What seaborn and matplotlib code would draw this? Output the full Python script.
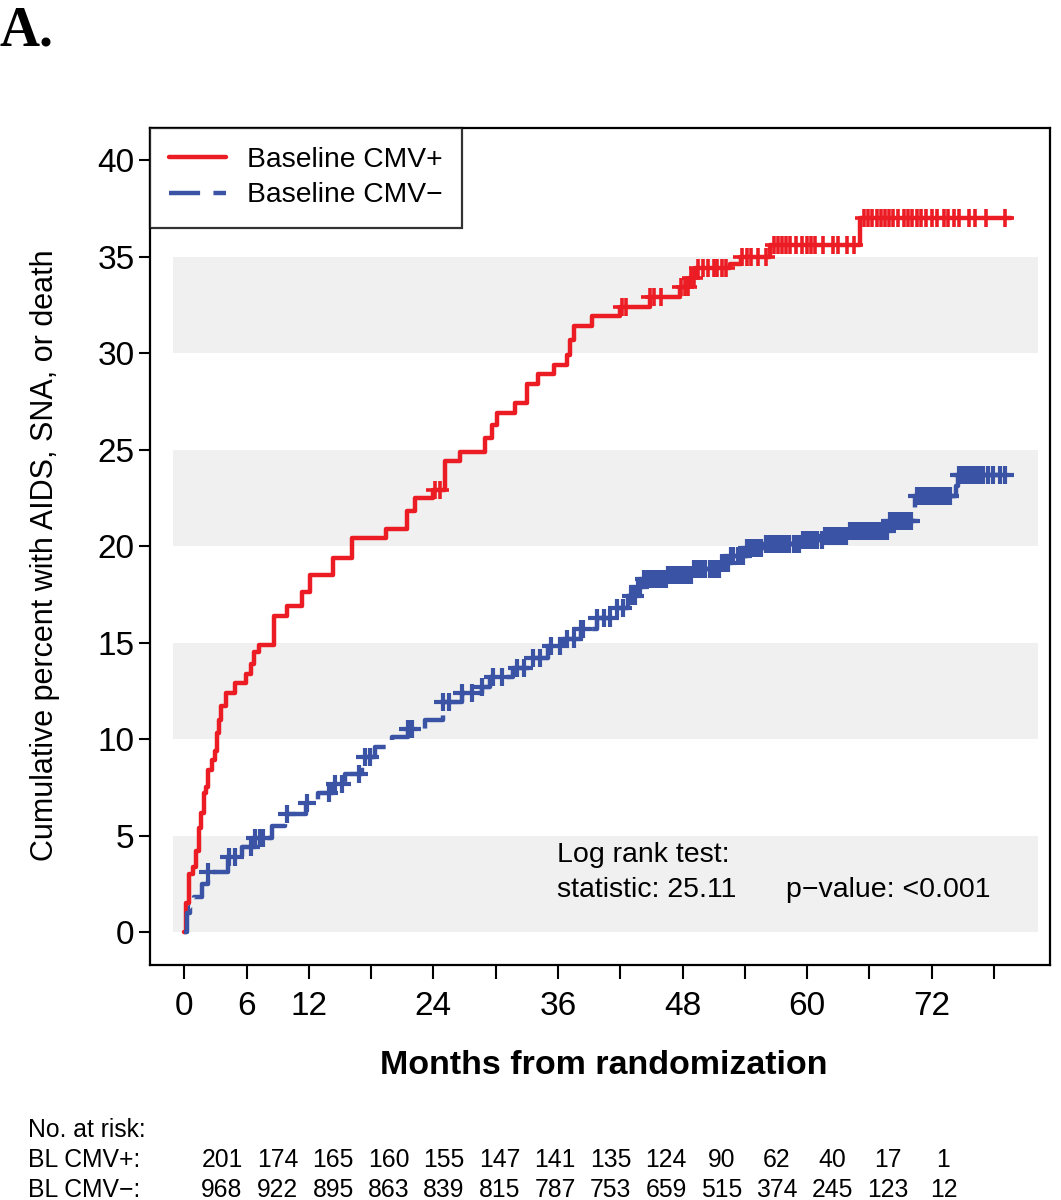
import numpy as np
import pandas as pd
import matplotlib
matplotlib.use('Agg')
import matplotlib.pyplot as plt
import seaborn as sns

# step curves: event times (months) and cumulative percent
pos_time = [0, 0.2, 0.5, 0.8, 1.1, 1.4, 1.6, 1.9, 2.1, 2.3, 2.7, 3.0, 3.2, 3.3, 3.5, 4.0,
            4.9, 5.9, 6.4, 6.7, 7.2, 8.6, 9.9, 11.3, 12.1, 14.3, 16.2, 19.4, 21.5, 22.2,
            24.0, 25.1, 26.6, 29.0, 29.6, 30.1, 31.9, 33.0, 34.1, 35.6, 36.9, 37.2, 37.5,
            39.3, 42.0, 44.9, 47.8, 48.6, 49.2, 52.6, 53.6, 56.4, 65.1, 79.6]
pos_pct = [0, 1.5, 3.0, 3.4, 4.2, 5.4, 6.2, 7.2, 7.5, 8.4, 8.9, 9.4, 10.3, 11.0, 11.7, 12.4,
           12.9, 13.4, 13.9, 14.5, 14.9, 16.4, 16.9, 17.6, 18.5, 19.4, 20.4, 20.9, 21.8, 22.5,
           22.9, 24.4, 24.9, 25.6, 26.3, 26.9, 27.4, 28.4, 28.9, 29.4, 29.9, 30.7, 31.4,
           31.9, 32.4, 32.9, 33.4, 33.9, 34.4, 34.6, 35.0, 35.6, 37.0, 37.0]
pos_censor = [24.2, 24.6, 42.2, 42.6, 44.9, 45.3, 45.9, 47.9, 48.2, 48.5, 48.8, 49.1,
              49.5, 50.0, 50.5, 51.0, 51.3, 51.8, 52.2, 53.7, 54.2, 54.6, 55.3, 56.0,
              56.8, 57.2, 57.6, 58.0, 58.4, 58.9, 59.5, 60.0, 60.4, 60.8, 61.5, 62.5, 63.0,
              63.8, 64.5, 65.5, 65.9, 66.3, 66.7, 67.1, 67.5, 67.9, 68.3, 68.8, 69.3, 69.7,
              70.1, 70.6, 71.0, 71.5, 72.0, 72.5, 73.2, 73.6, 74.2, 74.6, 75.6, 76.2, 77.2, 79.1]

neg_time = [0, 0.3, 0.6, 0.9, 1.7, 2.3, 4.2, 5.6, 6.8, 8.5, 9.7, 11.7, 12.9, 14.3, 15.5,
            17.1, 18.4, 20.0, 21.6, 23.2, 24.9, 26.8, 28.7, 29.5, 31.7, 33.3, 35.0, 36.5,
            38.2, 39.8, 41.3, 42.7, 43.6, 44.2, 46.5, 49.0, 51.6, 52.6, 54.2, 55.8, 59.6,
            61.5, 63.9, 67.8, 68.0, 70.2, 70.4, 74.3, 74.5, 79.8]
neg_pct = [0, 1.0, 1.3, 1.8, 2.5, 3.1, 3.9, 4.4, 4.9, 5.5, 6.1, 6.7, 7.2, 7.7, 8.2,
           9.1, 9.6, 10.1, 10.5, 11.0, 11.9, 12.4, 12.7, 13.2, 13.7, 14.2, 14.8, 15.2,
           15.7, 16.3, 16.8, 17.4, 17.9, 18.3, 18.5, 18.8, 19.1, 19.5, 19.9, 20.1, 20.3,
           20.5, 20.8, 21.1, 21.3, 22.0, 22.6, 23.1, 23.7, 23.7]
neg_censor = [2.3, 4.3, 4.9, 6.4, 6.8, 7.3, 7.6, 9.9, 11.8, 13.9, 14.5, 15.2, 16.8, 17.4,
              17.9, 21.6, 21.9, 24.9, 25.5, 26.8, 27.7, 28.7, 29.7, 30.6, 32.1, 32.7, 33.6,
              34.3, 35.3, 36.2, 36.9, 37.5, 38.2, 38.4, 39.8, 40.4, 41.0, 41.7, 42.3, 43.0,
              43.4, 43.7, 43.9, 44.3, 44.6, 44.8, 45.2, 45.5, 45.7, 46.1, 46.4, 46.6, 47.0,
              47.3, 47.5, 47.9, 48.2, 48.4, 48.8, 49.1, 49.3, 49.7, 50.0, 50.2, 50.6, 50.9,
              51.1, 51.5, 51.8, 52.0, 52.4, 52.7, 52.9, 53.3, 53.6, 53.8, 54.2, 54.5, 54.7,
              55.1, 55.4, 55.6, 56.0, 56.3, 56.5, 56.9, 57.2, 57.4, 57.8, 58.1, 58.3, 58.7,
              59.0, 59.2, 59.6, 59.9, 60.1, 60.5, 60.8, 61.0, 61.4, 61.7, 61.9, 62.3, 62.6,
              62.8, 63.2, 63.5, 63.7, 64.1, 64.4, 64.6, 65.0, 65.3, 65.5, 65.9, 66.2, 66.4,
              66.8, 67.1, 67.3, 67.7, 68.0, 68.2, 68.6, 68.9, 69.1, 69.5, 69.8, 70.0, 70.6,
              70.9, 71.1, 71.5, 71.8, 72.0, 72.4, 72.7, 72.9, 73.3, 73.6, 73.8, 74.6, 74.9,
              75.1, 75.5, 75.8, 76.0, 76.4, 76.7, 76.9, 77.4, 77.9, 78.6, 79.1]

risk_pos = [201, 174, 165, 160, 155, 147, 141, 135, 124, 90, 62, 40, 17, 1]
risk_neg = [968, 922, 895, 863, 839, 815, 787, 753, 659, 515, 374, 245, 123, 12]

tick_months = [0, 6, 12, 18, 24, 30, 36, 42, 48, 54, 60, 66, 72, 78]
tick_labels = ['0', '6', '12', '', '24', '', '36', '', '48', '', '60', '', '72', '']

RED = '#EC1C24'
BLUE = '#3A53A4'

sns.set_theme(style='white')
plt.rcParams['font.family'] = ['Liberation Sans', 'DejaVu Sans']
plt.rcParams['text.color'] = 'black'
plt.rcParams['axes.labelcolor'] = 'black'
plt.rcParams['xtick.color'] = 'black'
plt.rcParams['ytick.color'] = 'black'


def censor_y(times, pcts, cens):
    idx = np.searchsorted(times, cens, side='right') - 1
    return np.array(pcts)[idx]


fig = plt.figure(figsize=(10.61, 12), dpi=100)
ax = fig.add_axes([150 / 1061, 1 - 965 / 1200, 900 / 1061, 837 / 1200])

# grey bands
for lo in [0, 10, 20, 30]:
    ax.fill_between([-1.1, 82.2], lo, lo + 5, color='#F0F0F0', lw=0, zorder=0)

df_pos = pd.DataFrame({'t': pos_time, 'pct': pos_pct})
df_neg = pd.DataFrame({'t': neg_time, 'pct': neg_pct})

sns.lineplot(data=df_pos, x='t', y='pct', drawstyle='steps-post', estimator=None,
             sort=False, color=RED, lw=3.2, label='Baseline CMV+', ax=ax)
sns.scatterplot(x=pos_censor, y=censor_y(pos_time, pos_pct, pos_censor), marker='+',
                s=170, color=RED, linewidth=2.6, legend=False, ax=ax, zorder=3)

sns.lineplot(data=df_neg, x='t', y='pct', drawstyle='steps-post', estimator=None,
             sort=False, color=BLUE, lw=3.2, label='Baseline CMV\u2212', ax=ax)
ax.lines[-1].set_dashes((7, 3))
sns.scatterplot(x=neg_censor, y=censor_y(neg_time, neg_pct, neg_censor), marker='+',
                s=160, color=BLUE, linewidth=3.0, legend=False, ax=ax, zorder=4)

ax.set_xlim(-3.3, 83.4)
ax.set_ylim(-1.7, 41.66)
ax.set_xticks(tick_months)
ax.set_xticklabels(tick_labels)
ax.set_yticks(range(0, 41, 5))
ax.tick_params(axis='both', direction='out', length=10, width=1.5, colors='black',
               labelsize=24, bottom=True, left=True)
ax.tick_params(axis='x', pad=9)
ax.tick_params(axis='y', length=8, pad=3)
for sp in ax.spines.values():
    sp.set_color('black')
    sp.set_linewidth(1.6)

ax.set_xlabel('Months from randomization', fontsize=24.5, fontweight='bold')
ax.set_ylabel('Cumulative percent with AIDS, SNA, or death', fontsize=22)
ax.xaxis.label.set_va('center')
ax.yaxis.label.set_va('center')
ax.xaxis.set_label_coords(0.504, -0.1195)
ax.yaxis.set_label_coords(-0.117, 0.49)

leg = ax.legend(loc='upper left', borderaxespad=0, fontsize=20.3, frameon=True,
                fancybox=False, handlelength=2.0, handletextpad=0.75, borderpad=0.68,
                labelspacing=0.33)
leg.get_frame().set_edgecolor('black')
leg.get_frame().set_linewidth(1.6)

ax.text(35.9, 4.0, 'Log rank test:', fontsize=20.5, va='center', ha='left')
ax.text(35.9, 2.2, 'statistic: 25.11', fontsize=20.5, va='center', ha='left')
ax.text(58.0, 2.2, 'p\u2212value: <0.001', fontsize=20.5, va='center', ha='left')

fig.text(0.0, 1 - 32 / 1200, 'A.', fontsize=40, fontweight='bold',
         family=['Liberation Serif'], va='center', ha='left')

fig.text(28 / 1061, 1 - 1130 / 1200, 'No. at risk:', fontsize=17.8, va='center')
fig.text(28 / 1061, 1 - 1160 / 1200, 'BL CMV+:', fontsize=17.8, va='center')
fig.text(28 / 1061, 1 - 1190 / 1200, 'BL CMV\u2212:', fontsize=17.8, va='center')
for i, (a, b) in enumerate(zip(risk_pos, risk_neg)):
    xc = (222 + 55.5 * i) / 1061
    fig.text(xc, 1 - 1160 / 1200, str(a), fontsize=17.8, va='center', ha='center')
    fig.text(xc, 1 - 1190 / 1200, str(b), fontsize=17.8, va='center', ha='center')

fig.savefig('out.png', dpi=100)
